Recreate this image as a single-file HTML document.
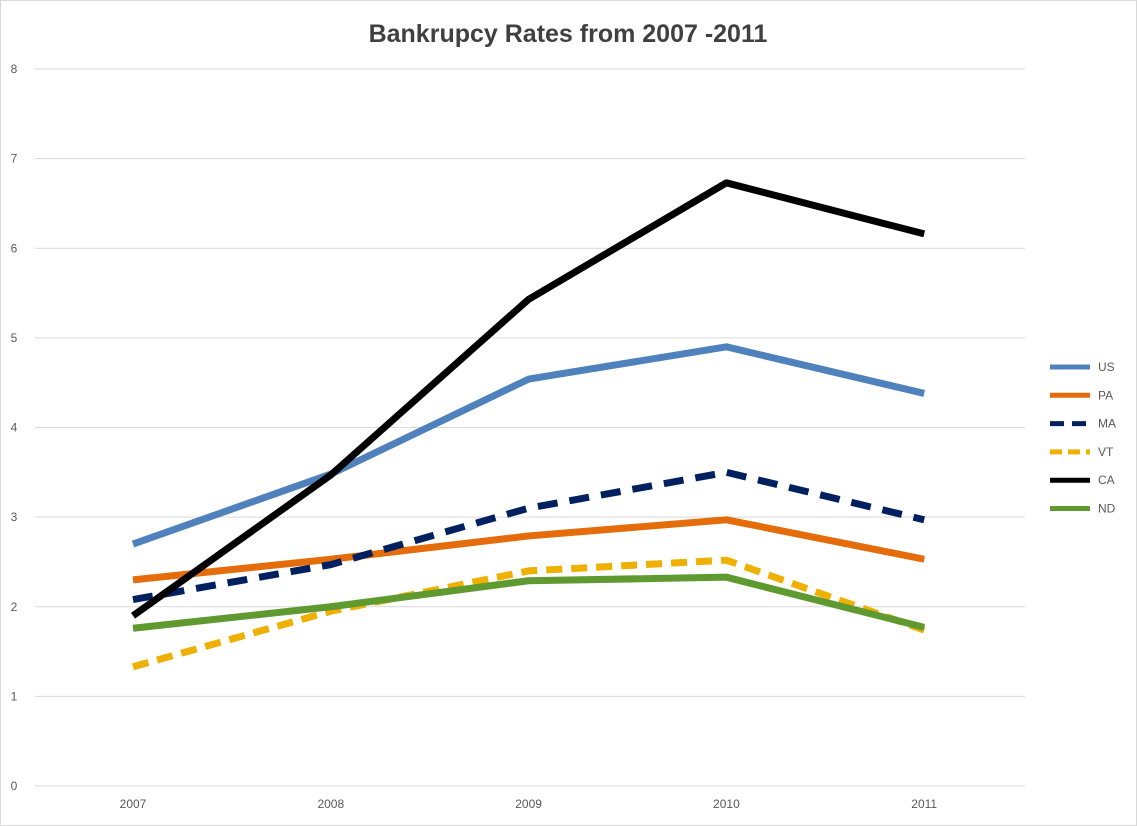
<!DOCTYPE html>
<html><head><meta charset="utf-8"><style>
body{margin:0;background:#fff}
svg{display:block;font-family:"Liberation Sans",Arial,sans-serif}
</style></head><body>
<svg width="1137" height="826" id="c">
<rect x="0.5" y="0.5" width="1136" height="825" fill="#fff" stroke="#d9d9d9"/>
<text x="568" y="42" text-anchor="middle" font-size="25" font-weight="bold" fill="#404040">Bankrupcy Rates from 2007 -2011</text>
<g id="grid"></g><g id="series"></g><g id="legend"></g>
</svg>
<script>
const years=["2007","2008","2009","2010","2011"];
const yTicks=[0,1,2,3,4,5,6,7,8];
const seriesNames=["US","PA","MA","VT","CA","ND"];
const US=[2.7,3.48,4.54,4.9,4.38];
const PA=[2.3,2.53,2.79,2.97,2.53];
const MA=[2.08,2.47,3.1,3.5,2.97];
const VT=[1.33,1.95,2.4,2.52,1.74];
const CA=[1.9,3.47,5.43,6.73,6.16];
const ND=[1.76,2.0,2.29,2.33,1.77];
const ns="http://www.w3.org/2000/svg";
const L=35,R=1025,T=69,B=786;
const xS=i=>133+i*197.8;
const yS=v=>B-(B-T)*v/8;
const styles={US:["#4f81bd",""],PA:["#e46c0a",""],MA:["#002060","20,12"],VT:["#f0b000","16,9"],CA:["#000000",""],ND:["#5f9a30",""]};
const data={US,PA,MA,VT,CA,ND};
const grid=document.getElementById('grid');
yTicks.forEach(t=>{
 const l=document.createElementNS(ns,'line');
 
 
 l.setAttribute('x1',L);l.setAttribute('x2',R);l.setAttribute('y1',yS(t));l.setAttribute('y2',yS(t));
 l.setAttribute('stroke','#d9d9d9');grid.appendChild(l);
 const tx=document.createElementNS(ns,'text');
 
 
 tx.setAttribute('x',14);tx.setAttribute('y',yS(t)+4);tx.setAttribute('font-size','12');tx.setAttribute('fill','#595959');tx.setAttribute('text-anchor','middle');
 tx.textContent=t;grid.appendChild(tx);
});
years.forEach((y,i)=>{
 const tx=document.createElementNS(ns,'text');
 
 
 tx.setAttribute('x',xS(i));tx.setAttribute('y',808);tx.setAttribute('font-size','12');tx.setAttribute('fill','#595959');tx.setAttribute('text-anchor','middle');
 tx.textContent=y;grid.appendChild(tx);
});
const sg=document.getElementById('series'),lg=document.getElementById('legend');
seriesNames.forEach((n,k)=>{
 const [c,d]=styles[n];
 const p=document.createElementNS(ns,'polyline');
 
 
 p.setAttribute('points',data[n].map((v,i)=>xS(i)+','+yS(v)).join(' '));
 p.setAttribute('fill','none');p.setAttribute('stroke',c);p.setAttribute('stroke-width','7');p.setAttribute('stroke-linejoin','round');
 if(d)p.setAttribute('stroke-dasharray',d);
 sg.appendChild(p);
 const y=367+k*28.3;
 const l=document.createElementNS(ns,'line');
 
 
 l.setAttribute('x1',1050);l.setAttribute('x2',1090);l.setAttribute('y1',y);l.setAttribute('y2',y);
 l.setAttribute('stroke',c);l.setAttribute('stroke-width','5');if(d)l.setAttribute('stroke-dasharray',d==="20,12"?"14,8":"12,6");
 lg.appendChild(l);
 const tx=document.createElementNS(ns,'text');
 
 
 tx.setAttribute('x',1098);tx.setAttribute('y',y+4);tx.setAttribute('font-size','12');tx.setAttribute('fill','#595959');
 tx.textContent=n;lg.appendChild(tx);
});
</script>
</body></html>
